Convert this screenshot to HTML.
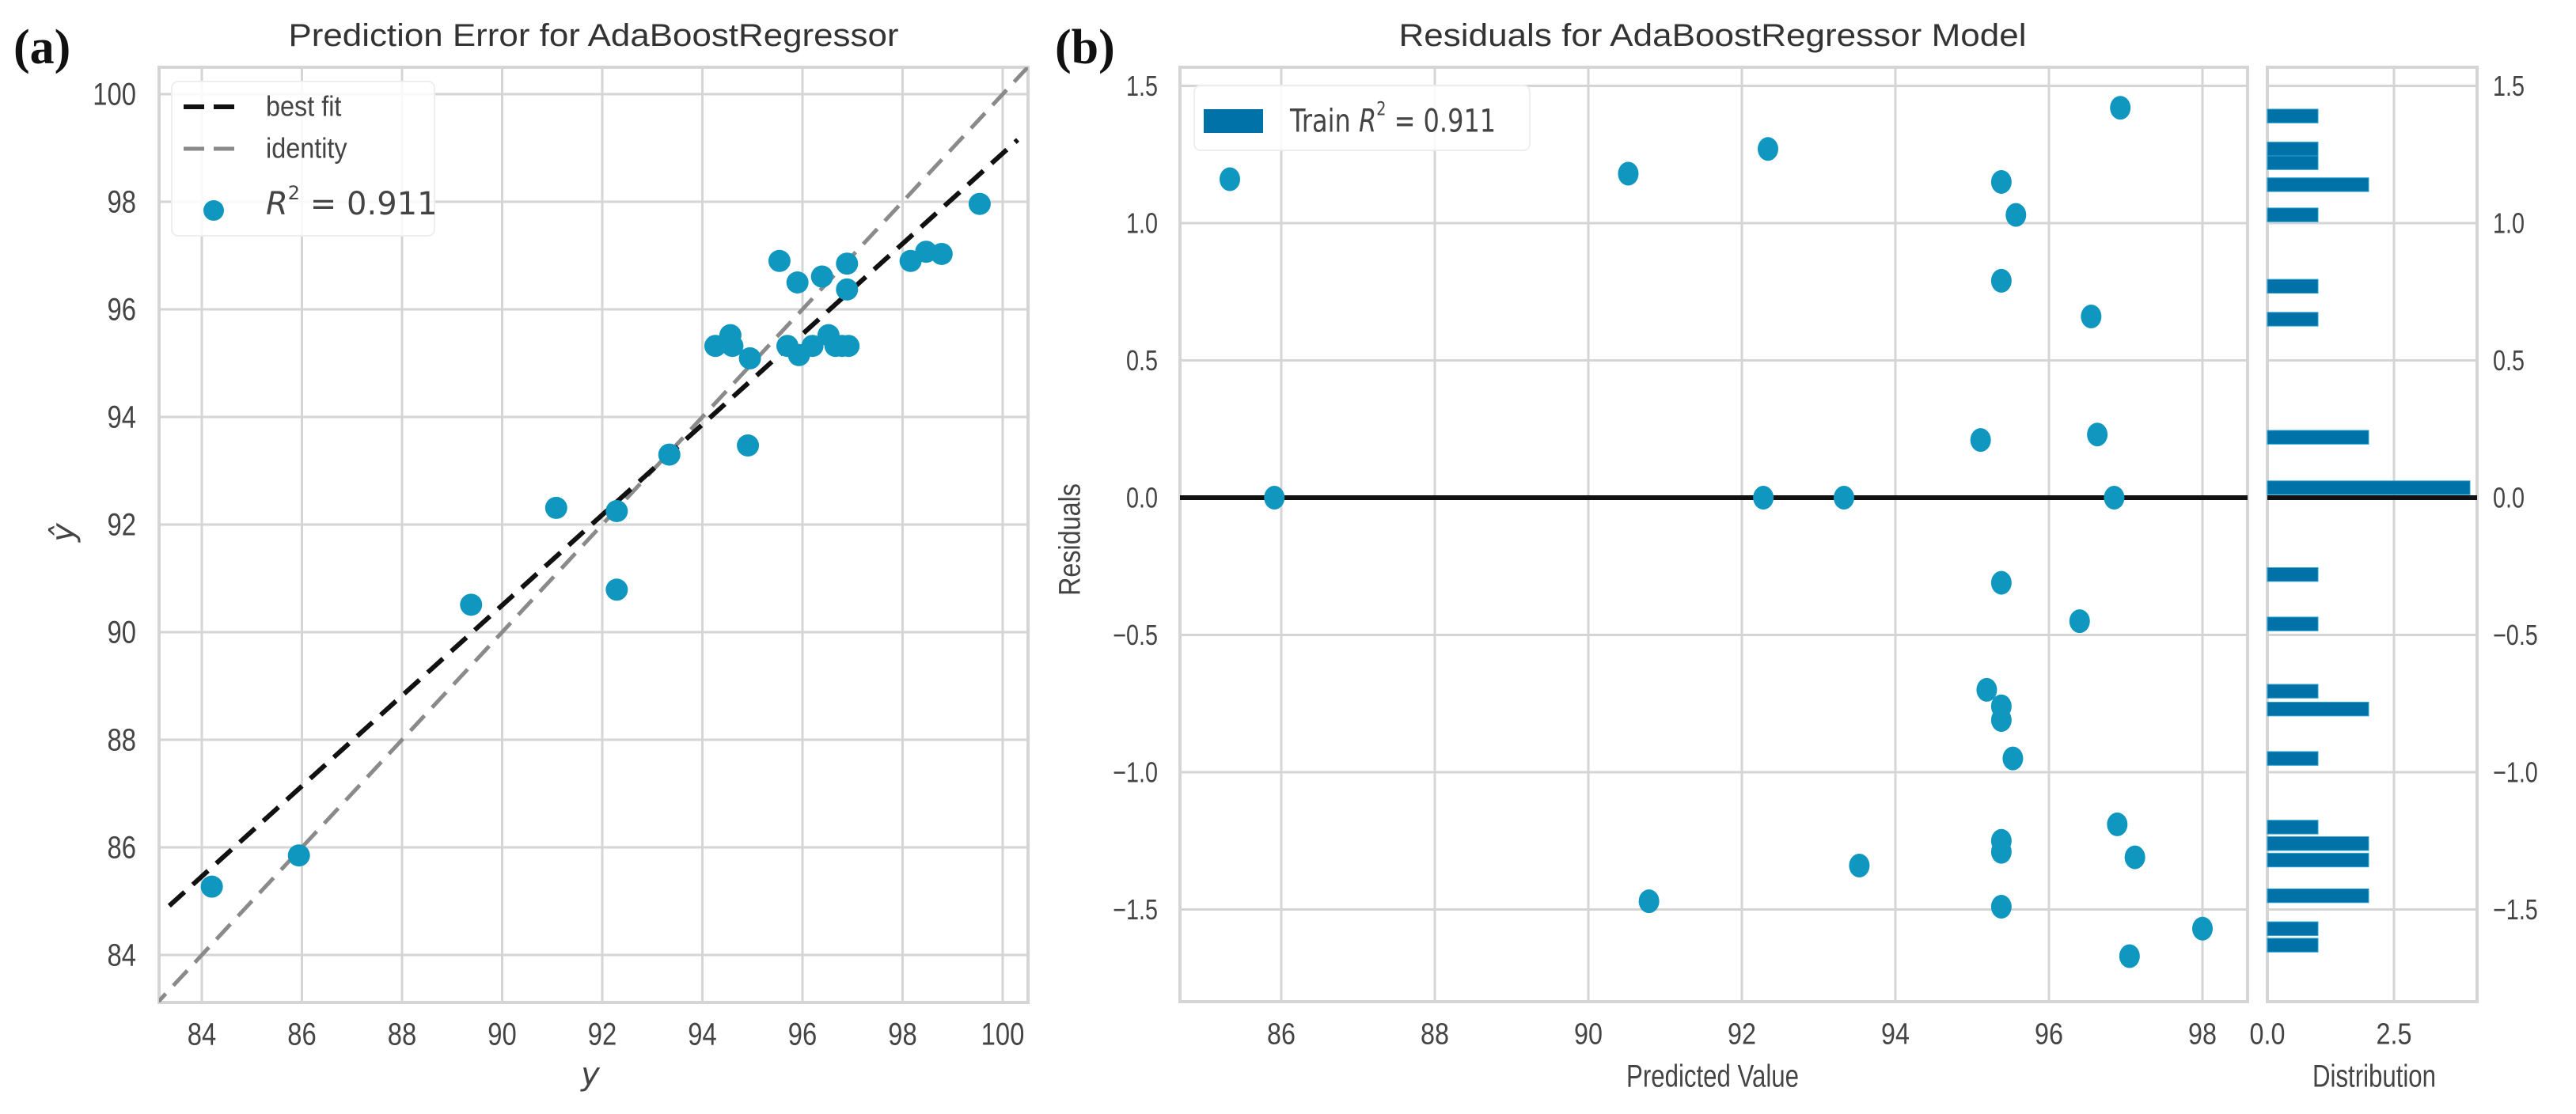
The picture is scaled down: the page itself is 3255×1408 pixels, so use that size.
<!DOCTYPE html>
<html><head><meta charset="utf-8"><style>
html,body{margin:0;padding:0;background:#fff;}
svg{display:block;font-family:"Liberation Sans",Arial,sans-serif;}
</style></head><body>
<svg id="fig" width="3255" height="1408" viewBox="0 0 3255 1408" xmlns="http://www.w3.org/2000/svg">
<rect x="0" y="0" width="3255" height="1408" fill="#fff"/>
<text x="17" y="80" font-family="Liberation Serif,serif" font-weight="bold" font-size="62" fill="#111">(a)</text>
<text x="1333" y="80" font-family="Liberation Serif,serif" font-weight="bold" font-size="62" fill="#111">(b)</text>
<text x="750" y="58" text-anchor="middle" font-size="40" fill="#333" textLength="771" lengthAdjust="spacingAndGlyphs">Prediction Error for AdaBoostRegressor</text>
<text x="2164" y="58" text-anchor="middle" font-size="40" fill="#333" textLength="793" lengthAdjust="spacingAndGlyphs">Residuals for AdaBoostRegressor Model</text>
<g id="left"></g>
<g id="right"></g>
<g id="hist"></g>
</svg>
<script>
// ---- Data: prediction error ----
const actualY = [84.2,85.94,89.38,91.08,92.29,92.29,93.34,94.91,94.26,94.56,94.6,94.95,95.54,95.9,95.7,95.93,96.2,96.39,96.52,96.66,96.79,96.92,96.89,96.89,98.16,98.47,98.78,99.54];
const predictedY = [85.27,85.85,90.51,92.31,92.25,90.79,93.3,93.47,95.32,95.52,95.32,95.09,96.9,96.5,95.32,95.15,95.32,96.61,95.52,95.32,95.32,95.32,96.85,96.37,96.9,97.07,97.03,97.96];
const fitSlope = [0.84];
const fitIntercept = [14.9];
const leftTicks = [84,86,88,90,92,94,96,98,100];
// ---- Data: residuals ----
const residPred = [85.33,90.52,92.34,96.93,95.38,95.57,95.38,96.55,95.11,96.63,85.91,92.28,93.33,96.85,95.38,96.4,95.19,95.38,95.38,95.53,96.89,95.38,95.38,97.12,93.53,90.79,95.38,98.0,97.05];
const residVals = [1.16,1.18,1.27,1.42,1.15,1.03,0.79,0.66,0.21,0.23,0,0,0,0,-0.31,-0.45,-0.7,-0.76,-0.81,-0.95,-1.19,-1.25,-1.29,-1.31,-1.34,-1.47,-1.49,-1.57,-1.67];
const rightXTicks = [86,88,90,92,94,96,98];
const rightYTicks = [-1.5,-1.0,-0.5,0.0,0.5,1.0,1.5];
// ---- Data: histogram ----
const binCenters = [1.39,1.27,1.22,1.14,1.03,0.77,0.65,0.22,0.036,-0.28,-0.46,-0.705,-0.77,-0.95,-1.2,-1.26,-1.32,-1.45,-1.57,-1.63];
const binCounts = [1,1,1,2,1,1,1,2,4,1,1,1,2,1,1,2,2,2,1,1];
const histTicks = [0,2.5];

const NS="http://www.w3.org/2000/svg";
function mk(parent,tag,attrs,txt){const e=document.createElementNS(NS,tag);for(const k in attrs)e.setAttribute(k,attrs[k]);if(txt!==undefined)e.textContent=txt;parent.appendChild(e);return e;}
function txt(parent,x,y,s,fs,anchor,sx){const t=mk(parent,'text',{transform:`translate(${x},${y}) scale(${sx},1)`,'font-size':fs,'text-anchor':anchor,'dominant-baseline':'central',fill:'#444'},s);return t;}

const LX=v=>255+(v-84)*63.25, LY=v=>1207-(v-84)*68;
const RX=v=>1619+(v-86)*97, RY=v=>629-v*347;
const HX=c=>2865+c*64;
const grid='#d5d5d5';

// ---------- Left ----------
const L=document.getElementById('left');
mk(L,'rect',{x:201,y:85,width:1098,height:1182,fill:'#fff',stroke:grid,'stroke-width':4});
leftTicks.forEach(t=>{
  const gx=mk(L,'line',{x1:LX(t),x2:LX(t),y1:85,y2:1267,stroke:grid,'stroke-width':3});
  
  const gy=mk(L,'line',{x1:201,x2:1299,y1:LY(t),y2:LY(t),stroke:grid,'stroke-width':3});
  
  const tx=txt(L,LX(t),1307,String(t),40,'middle',0.82);
  
  const ty=txt(L,172,LY(t),String(t),40,'end',0.82);
  
});
const clip=mk(L,'clipPath',{id:'lc'});mk(clip,'rect',{x:201,y:85,width:1098,height:1182});
const lines=mk(L,'g',{'clip-path':'url(#lc)'});
const idl=mk(lines,'line',{x1:LX(83.0),y1:LY(83.0),x2:LX(100.6),y2:LY(100.6),stroke:'#8a8a8a','stroke-width':5,'stroke-dasharray':'26,14'});

const x0=83.35,x1=100.3;
const bf=mk(lines,'line',{x1:LX(x0),y1:LY(fitSlope[0]*x0+fitIntercept[0]),x2:LX(x1),y2:LY(fitSlope[0]*x1+fitIntercept[0]),stroke:'#111','stroke-width':6,'stroke-dasharray':'26,14'});

actualY.forEach((a,i)=>{
  const c=mk(L,'circle',{cx:LX(a),cy:LY(predictedY[i]),r:14,fill:'#1097c0'});
  
});
const lg=mk(L,'g',{});

mk(lg,'rect',{x:217,y:103,width:332,height:195,rx:8,fill:'#fff','fill-opacity':0.85,stroke:'#eee','stroke-width':2});
mk(lg,'line',{x1:232,x2:296,y1:135,y2:135,stroke:'#111','stroke-width':6,'stroke-dasharray':'26,12'});
mk(lg,'line',{x1:232,x2:296,y1:188,y2:188,stroke:'#8a8a8a','stroke-width':5,'stroke-dasharray':'26,12'});
mk(lg,'circle',{cx:270,cy:266,r:13,fill:'#1097c0'});
txt(lg,336,135,'best fit',36,'start',0.9);
txt(lg,336,188,'identity',36,'start',0.9);
const r2=mk(lg,'text',{x:336,y:258,'font-size':40,'dominant-baseline':'central',fill:'#444','font-family':'DejaVu Sans, sans-serif'});
mk(r2,'tspan',{'font-style':'italic'},'R');mk(r2,'tspan',{dy:-14,'font-size':24},'2');mk(r2,'tspan',{dy:14},' = 0.911');
const ylab=mk(L,'text',{transform:'translate(80,673) rotate(-90)','font-size':40,'font-style':'italic','text-anchor':'middle','dominant-baseline':'central',fill:'#444','font-family':'DejaVu Sans, sans-serif'},'ŷ');

const xlab=mk(L,'text',{x:746,y:1358,'font-size':40,'font-style':'italic','text-anchor':'middle','dominant-baseline':'central',fill:'#444','font-family':'DejaVu Sans, sans-serif'},'y');


// ---------- Right ----------
const R=document.getElementById('right');
mk(R,'rect',{x:1491,y:85,width:1349,height:1181,fill:'#fff',stroke:grid,'stroke-width':4});
rightXTicks.forEach(t=>{
  const g=mk(R,'line',{x1:RX(t),x2:RX(t),y1:85,y2:1266,stroke:grid,'stroke-width':3});
  
  const l=txt(R,RX(t),1307,String(t),38,'middle',0.85);
  
});
rightYTicks.forEach(t=>{
  const g=mk(R,'line',{x1:1491,x2:2840,y1:RY(t),y2:RY(t),stroke:grid,'stroke-width':3});
  
  const s=(t<0?'\u2212':'')+Math.abs(t).toFixed(1);
  const l=txt(R,1463,RY(t),s,36,'end',0.8);
  
});
const zl=mk(R,'line',{x1:1491,x2:2840,y1:RY(0),y2:RY(0),stroke:'#111','stroke-width':6});

residPred.forEach((p,i)=>{
  const c=mk(R,'ellipse',{cx:RX(p),cy:RY(residVals[i]),rx:13,ry:15,fill:'#1097c0'});
  
});
const rl=mk(R,'g',{});

mk(rl,'rect',{x:1509,y:108,width:424,height:82,rx:8,fill:'#fff','fill-opacity':0.85,stroke:'#eee','stroke-width':2});
mk(rl,'rect',{x:1521,y:138,width:75,height:30,fill:'#0072a8'});
const rt=mk(rl,'text',{transform:'translate(1630,152) scale(0.8,1)','font-size':40,'dominant-baseline':'central',fill:'#444','font-family':'DejaVu Sans, sans-serif'});
mk(rt,'tspan',{},'Train ');mk(rt,'tspan',{'font-style':'italic'},'R');mk(rt,'tspan',{dy:-14,'font-size':24},'2');mk(rt,'tspan',{dy:14},' = 0.911');
const ry=mk(R,'text',{transform:'translate(1352,682) rotate(-90) scale(0.85,1)','font-size':38,'text-anchor':'middle','dominant-baseline':'central',fill:'#444'},'Residuals');

const rx=mk(R,'text',{transform:'translate(2164,1360) scale(0.78,1)','font-size':40,'text-anchor':'middle','dominant-baseline':'central',fill:'#444'},'Predicted Value');


// ---------- Histogram ----------
const H=document.getElementById('hist');
mk(H,'rect',{x:2865,y:85,width:265,height:1181,fill:'#fff',stroke:grid,'stroke-width':4});
histTicks.forEach(t=>{
  const g=mk(H,'line',{x1:HX(t),x2:HX(t),y1:85,y2:1266,stroke:grid,'stroke-width':3});
  
  const l=txt(H,HX(t),1307,t.toFixed(1),38,'middle',0.85);
  
});
rightYTicks.forEach(t=>{
  const g=mk(H,'line',{x1:2865,x2:3130,y1:RY(t),y2:RY(t),stroke:grid,'stroke-width':3});
  
  const s=(t<0?'\u2212':'')+Math.abs(t).toFixed(1);
  const l=txt(H,3150,RY(t),s,36,'start',0.8);
  
});
const binH=0.05;
binCenters.forEach((b,i)=>{
  const r=mk(H,'rect',{x:HX(0),y:RY(b+binH/2),width:HX(binCounts[i])-HX(0),height:RY(b-binH/2)-RY(b+binH/2),fill:'#0072a8',stroke:'#2aa3d0','stroke-width':1});
  
});
const hz=mk(H,'line',{x1:2865,x2:3130,y1:RY(0),y2:RY(0),stroke:'#111','stroke-width':6});

const hl=mk(H,'text',{transform:'translate(3000,1360) scale(0.78,1)','font-size':40,'text-anchor':'middle','dominant-baseline':'central',fill:'#444'},'Distribution');

</script>
</body></html>
